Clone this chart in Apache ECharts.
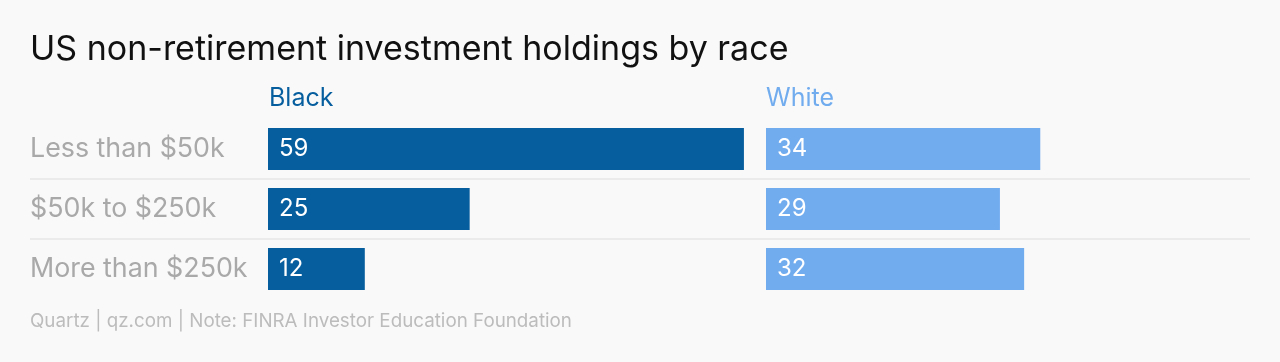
<!DOCTYPE html>
<html><head><meta charset="utf-8">
<script src="https://cdn.jsdelivr.net/npm/echarts@6/dist/echarts.min.js"></script>
<style>html,body{margin:0;padding:0;background:#f9f9f9}#c{width:1280px;height:362px}</style>
</head><body><div id="c"></div>
<script>
const categories = ["Less than $50k", "$50k to $250k", "More than $250k"];
const blackValues = [59, 25, 12];
const whiteValues = [34, 29, 32];
const seriesNames = ["Black", "White"];
const titleText = "US non-retirement investment holdings by race";
const footerText = "Quartz | qz.com | Note: FINRA Investor Education Foundation";

const FONT = "Inter";
const DARK = "#075e9e", LIGHT = "#71acef";
const chart = echarts.init(document.getElementById('c'));
const gridTop = 119, gridH = 180;
const catAxis = (gi, extra) => Object.assign({
  type: 'category', gridIndex: gi, data: categories, inverse: true,
  axisLine: {show: false}, axisTick: {show: false}, axisLabel: {show: false}, splitLine: {show: false}
}, extra || {});
const valAxis = gi => ({type: 'value', gridIndex: gi, min: 0, max: 60, show: false});
const barLabel = {show: true, position: 'insideLeft', distance: 11, color: '#fff', fontFamily: FONT, fontSize: 24};
chart.setOption({
  backgroundColor: '#f9f9f9',
  animation: false,
  title: [
    {text: titleText, left: 30, top: 33, padding: 0, textStyle: {fontFamily: FONT, fontSize: 34, fontWeight: 'normal', color: '#111'}},
    {text: seriesNames[0], left: 269, top: 86, padding: 0, textStyle: {fontFamily: FONT, fontSize: 25, fontWeight: 'normal', color: DARK}},
    {text: seriesNames[1], left: 766, top: 86, padding: 0, textStyle: {fontFamily: FONT, fontSize: 25, fontWeight: 'normal', color: LIGHT}},
    {text: footerText, left: 30, top: 312, padding: 0, textStyle: {fontFamily: FONT, fontSize: 18.8, fontWeight: 'normal', color: '#bcbcbc'}}
  ],
  grid: [
    {left: 30, width: 1220, top: gridTop, height: gridH},
    {left: 268, width: 484, top: gridTop, height: gridH},
    {left: 766, width: 484, top: gridTop, height: gridH}
  ],
  xAxis: [valAxis(0), valAxis(1), valAxis(2)],
  yAxis: [
    catAxis(0, {
      axisLabel: {show: true, inside: true, margin: 0, color: '#a9a9a9', fontFamily: FONT, fontSize: 26.8, padding: [0, 0, 3, 0]},
      splitLine: {show: true, showMinLine: false, showMaxLine: false, lineStyle: {color: '#ebebeb', width: 2}}
    }),
    catAxis(1), catAxis(2)
  ],
  series: [
    {type: 'bar', name: seriesNames[0], xAxisIndex: 1, yAxisIndex: 1, data: blackValues, barWidth: 42, itemStyle: {color: DARK}, label: barLabel},
    {type: 'bar', name: seriesNames[1], xAxisIndex: 2, yAxisIndex: 2, data: whiteValues, barWidth: 42, itemStyle: {color: LIGHT}, label: barLabel}
  ]
});
</script></body></html>
